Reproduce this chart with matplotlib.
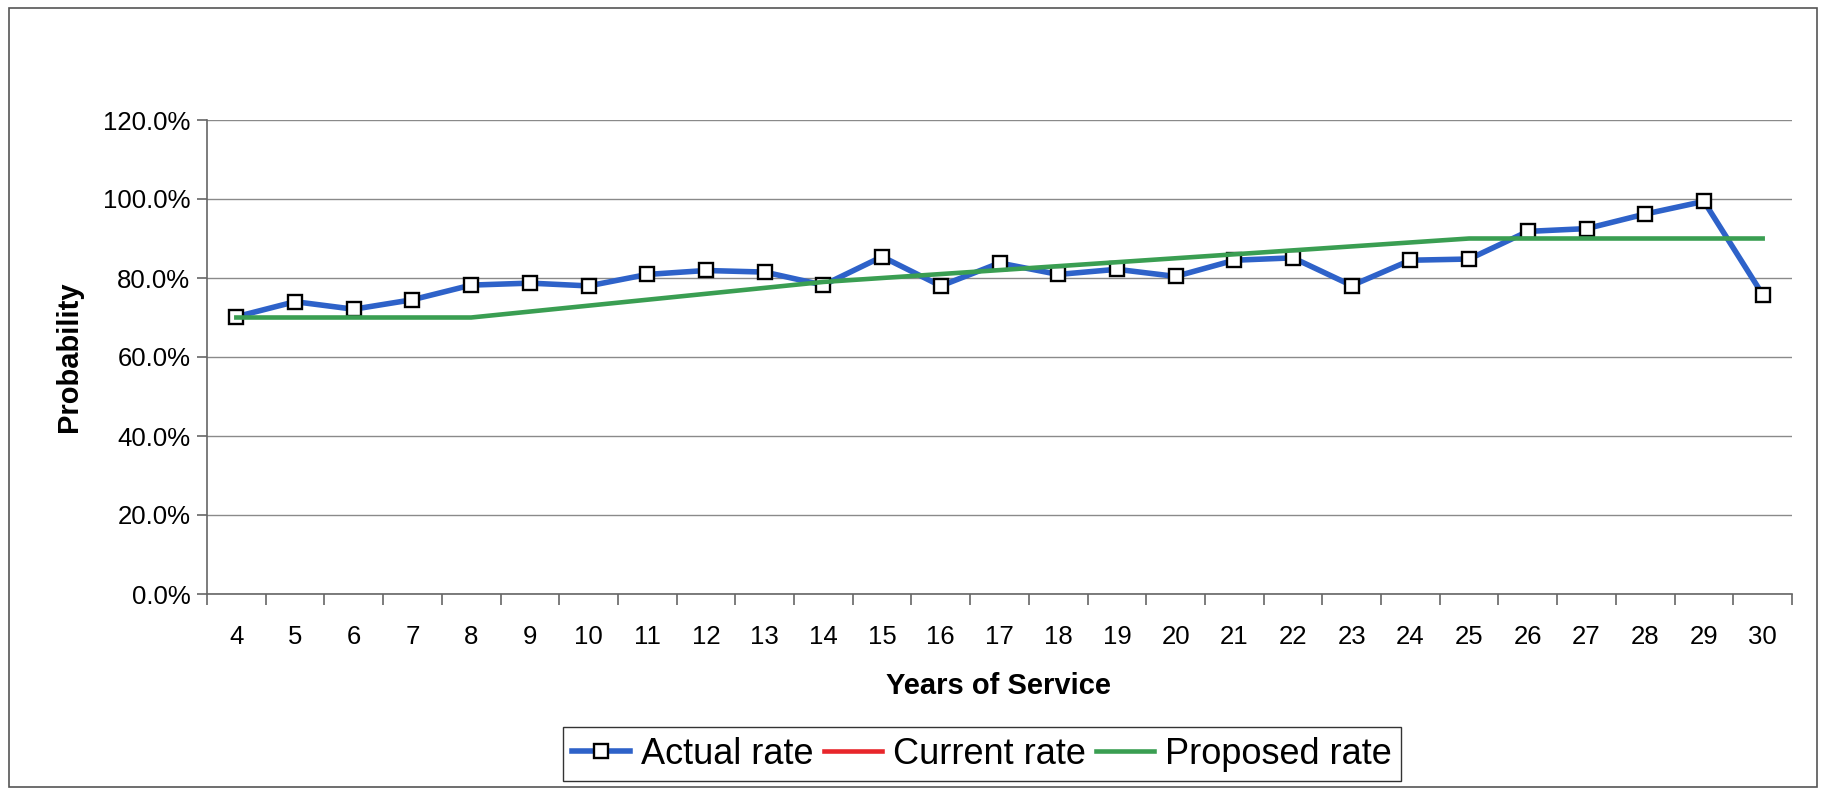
import numpy as np
import matplotlib
matplotlib.use("Agg")
import matplotlib.pyplot as plt
from matplotlib.patches import Rectangle
from matplotlib.ticker import FixedLocator, FuncFormatter

plt.rcParams['font.family'] = ['Liberation Sans', 'DejaVu Sans']

# Years of service (category axis)
years = list(range(4, 31))

# Probability values, in percent
actual_rate = [70.2, 74.0, 72.1, 74.5, 78.2, 78.7, 78.0, 80.9, 81.9, 81.5,
               78.2, 85.4, 78.0, 83.8, 80.9, 82.2, 80.4, 84.5, 85.1, 78.1,
               84.5, 84.8, 91.8, 92.5, 96.2, 99.4, 75.8]
current_rate = [None] * len(years)
proposed_rate = [70.0, 70.0, 70.0, 70.0, 70.0, 71.5, 73.0, 74.5, 76.0, 77.5,
                 79.0, 80.0, 81.0, 82.0, 83.0, 84.0, 85.0, 86.0, 87.0, 88.0,
                 89.0, 90.0, 90.0, 90.0, 90.0, 90.0, 90.0]

y_ticks = [0, 20, 40, 60, 80, 100, 120]

W, H = 1827, 794
fig = plt.figure(figsize=(W / 100, H / 100), dpi=100)
fig.patch.set_facecolor('white')

ax = fig.add_axes([207 / W, 1 - 594 / H, (1792 - 207) / W, (594 - 120) / H])

x = np.arange(len(years))
to_arr = lambda v: np.array([np.nan if a is None else a for a in v], dtype=float)

ax.plot(x, to_arr(actual_rate), color='#2E62C9', lw=4.0, marker='s',
        markersize=10, markerfacecolor='white', markeredgecolor='black',
        markeredgewidth=1.7, label='Actual rate', zorder=3)
ax.plot(x, to_arr(current_rate), color='#E8262B', lw=3.3,
        label='Current rate', zorder=3)
ax.plot(x, to_arr(proposed_rate), color='#3A9E52', lw=3.3,
        label='Proposed rate', zorder=4)

ax.set_xlim(-0.5, len(years) - 0.5)
ax.set_ylim(0, 120)

# Category ticks between labels, labels centred on each category
ax.xaxis.set_major_locator(FixedLocator(np.arange(-0.5, len(years), 1.0)))
ax.xaxis.set_major_formatter(FuncFormatter(lambda v, p: ''))
ax.xaxis.set_minor_locator(FixedLocator(x))
ax.xaxis.set_minor_formatter(FuncFormatter(lambda v, p: str(years[int(round(v))])))
ax.tick_params(axis='x', which='major', length=8, width=1.2, color='#666666',
               direction='out')
ax.tick_params(axis='x', which='minor', length=0, pad=22, labelsize=18.5)

ax.yaxis.set_major_locator(FixedLocator(y_ticks))
ax.yaxis.set_major_formatter(FuncFormatter(lambda v, p: f'{v:.1f}%'))
ax.tick_params(axis='y', length=7, width=1.2, color='#666666', pad=5,
               labelsize=18.5, direction='out')

ax.grid(axis='y', color='#8a8a8a', lw=1.0)
ax.set_axisbelow(True)
for side in ('top', 'right'):
    ax.spines[side].set_visible(False)
for side in ('left', 'bottom'):
    ax.spines[side].set_color('#666666')
    ax.spines[side].set_linewidth(1.2)

fig.text(999 / W, 1 - 686 / H, 'Years of Service', ha='center', va='center',
         fontsize=21, fontweight='bold')
fig.text(69 / W, 1 - 357 / H, 'Probability', ha='center', va='center',
         rotation=90, fontsize=21, fontweight='bold')

leg = fig.legend(loc='center', bbox_to_anchor=(982 / W, 1 - 754 / H), ncol=3,
                 fontsize=26, frameon=True, fancybox=False, edgecolor='black',
                 handlelength=1.6, handletextpad=0.3, columnspacing=0.3,
                 borderpad=0.25, borderaxespad=0)
leg.get_frame().set_linewidth(1.0)

# Chart area border
fig.patches.append(Rectangle((9 / W, 1 - 787 / H), (1817 - 9) / W, (787 - 8) / H,
                             transform=fig.transFigure, fill=False,
                             edgecolor='#555555', lw=1.2))

fig.savefig('out.png', dpi=100)
